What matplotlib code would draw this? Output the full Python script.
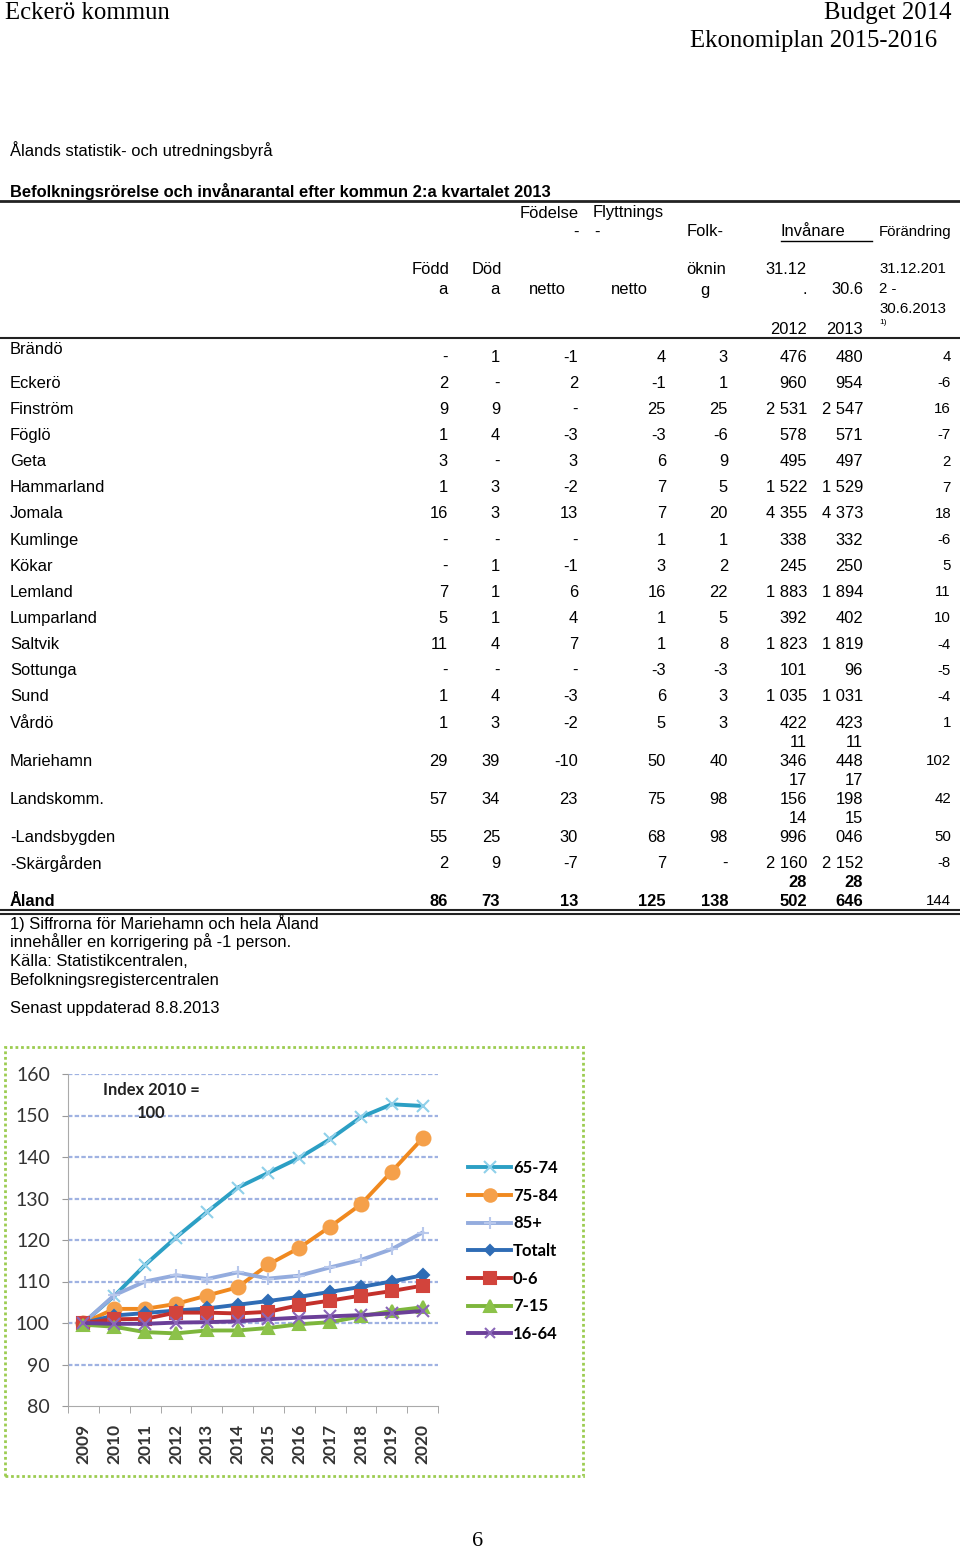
import matplotlib.pyplot as plt
from matplotlib.patches import Rectangle
from matplotlib.lines import Line2D

# --- table data -------------------------------------------------------------
kommuner = ['Brändö', 'Eckerö', 'Finström', 'Föglö', 'Geta', 'Hammarland',
            'Jomala', 'Kumlinge', 'Kökar', 'Lemland', 'Lumparland', 'Saltvik',
            'Sottunga', 'Sund', 'Vårdö', 'Mariehamn', 'Landskomm.',
            '-Landsbygden', '-Skärgården', 'Åland']
fodda = ['-', '2', '9', '1', '3', '1', '16', '-', '-', '7', '5', '11', '-',
         '1', '1', '29', '57', '55', '2', '86']
doda = ['1', '-', '9', '4', '-', '3', '3', '-', '1', '1', '1', '4', '-', '4',
        '3', '39', '34', '25', '9', '73']
fodelsenetto = ['-1', '2', '-', '-3', '3', '-2', '13', '-', '-1', '6', '4',
                '7', '-', '-3', '-2', '-10', '23', '30', '-7', '13']
flyttningsnetto = ['4', '-1', '25', '-3', '6', '7', '7', '1', '3', '16', '1',
                   '1', '-3', '6', '5', '50', '75', '68', '7', '125']
folkokning = ['3', '1', '25', '-6', '9', '5', '20', '1', '2', '22', '5', '8',
              '-3', '3', '3', '40', '98', '98', '-', '138']
invanare_2012 = ['476', '960', '2 531', '578', '495', '1 522', '4 355', '338',
                 '245', '1 883', '392', '1 823', '101', '1 035', '422',
                 '11 346', '17 156', '14 996', '2 160', '28 502']
invanare_2013 = ['480', '954', '2 547', '571', '497', '1 529', '4 373', '332',
                 '250', '1 894', '402', '1 819', '96', '1 031', '423',
                 '11 448', '17 198', '15 046', '2 152', '28 646']
forandring = ['4', '-6', '16', '-7', '2', '7', '18', '-6', '5', '11', '10',
              '-4', '-5', '-4', '1', '102', '42', '50', '-8', '144']

# --- chart data (index 2010 = 100) -----------------------------------------
years = [2009, 2010, 2011, 2012, 2013, 2014, 2015, 2016, 2017, 2018, 2019, 2020]
ald_65_74 = [100, 106.5, 114, 120.6, 126.7, 132.6, 136.2, 139.8, 144.3, 149.6, 152.7, 152.3]
ald_75_84 = [100, 103.4, 103.4, 104.6, 106.6, 108.6, 114.1, 118.1, 123.2, 128.6, 136.5, 144.5]
ald_85 = [100, 106.7, 110, 111.5, 110.6, 112.2, 110.7, 111.4, 113.4, 115.2, 117.8, 121.8]
totalt = [100, 101.8, 102.4, 103, 103.5, 104.4, 105.3, 106.3, 107.5, 108.7, 110, 111.5]
ald_0_6 = [100, 100.9, 101, 102.5, 102.5, 102.3, 102.7, 104.3, 105.4, 106.6, 107.7, 109]
ald_7_15 = [99.6, 99.1, 97.8, 97.5, 98.2, 98.2, 98.8, 99.7, 100.2, 101.6, 102.9, 103.8]
ald_16_64 = [100, 99.8, 99.8, 100.1, 100.2, 100.4, 100.9, 101.3, 101.6, 101.9, 102.3, 102.9]

W, H = 960, 1552
fig = plt.figure(figsize=(W / 100, H / 100), dpi=100)


def fx(x):
    return x / W


def fy(y):
    return 1 - y / H


def txt(x, y, s, ha='left', size=11.9, weight='normal', family=None, va='center'):
    fam = family or ['Liberation Sans', 'DejaVu Sans']
    fig.text(fx(x), fy(y), s, ha=ha, va=va, fontsize=size, weight=weight,
             family=fam, color='black')


serif = ['Liberation Serif', 'DejaVu Serif']
small = 10.8

# page header
txt(5, 13, 'Eckerö kommun', size=17.8, family=serif)
txt(951, 13, 'Budget 2014', ha='right', size=17.8, family=serif)
txt(937, 41, 'Ekonomiplan 2015-2016', ha='right', size=17.8, family=serif)

txt(10, 150, 'Ålands statistik- och utredningsbyrå')
txt(10, 191, 'Befolkningsrörelse och invånarantal efter kommun 2:a kvartalet 2013',
    weight='bold')

# table header
txt(520, 213, 'Födelse')
txt(579, 232, '-', ha='right')
txt(593, 213, 'Flyttnings')
txt(594, 232, '-')
txt(724, 232, 'Folk-', ha='right')
txt(813, 232, 'Invånare', ha='center')
fig.add_artist(Line2D([fx(781), fx(872)], [fy(241), fy(241)], color='black', lw=1))
txt(879, 232, 'Förändring', size=small)
txt(412, 270, 'Född')
txt(448, 290, 'a', ha='right')
txt(472, 270, 'Död')
txt(500, 290, 'a', ha='right')
txt(529, 290, 'netto')
txt(648, 290, 'netto', ha='right')
txt(686, 270, 'öknin')
txt(700, 290, 'g')
txt(807, 270, '31.12', ha='right')
txt(807, 290, '.', ha='right')
txt(807, 330, '2012', ha='right')
txt(863, 290, '30.6', ha='right')
txt(863, 330, '2013', ha='right')
txt(879, 269, '31.12.201', size=small)
txt(879, 289, '2 -', size=small)
txt(879, 309, '30.6.2013', size=small)
txt(879, 323, '1)', size=6)

fig.add_artist(Line2D([0, 1], [fy(201), fy(201)], color='#222222', lw=2))
fig.add_artist(Line2D([0, 1], [fy(338), fy(338)], color='#222222', lw=1.5))

# table body
columns = [(448, fodda), (500, doda), (578, fodelsenetto), (666, flyttningsnetto),
           (728, folkokning), (807, invanare_2012), (863, invanare_2013)]
y = 357
last = len(kommuner) - 1
for i, name in enumerate(kommuner):
    wrapped = len(invanare_2012[i]) > 5 or len(invanare_2013[i]) > 5
    if i > 0:
        y += 38 if wrapped else 26.15
    w = 'bold' if i == last else 'normal'
    txt(10, y - 8 if i == 0 else y, name, weight=w)
    for x, col in columns:
        v = col[i]
        if len(v) > 5:
            top, bottom = v.split(' ')
            txt(x, y - 19, top, ha='right', weight=w)
            txt(x, y, bottom, ha='right', weight=w)
        else:
            txt(x, y, v, ha='right', weight=w)
    txt(951, y, forandring[i], ha='right', size=small)

fig.add_artist(Line2D([0, 1], [fy(910), fy(910)], color='#222222', lw=1.5))
fig.add_artist(Line2D([0, 1], [fy(913.5), fy(913.5)], color='#222222', lw=1.5))

notes = ['1) Siffrorna för Mariehamn och hela Åland',
         'innehåller en korrigering på -1 person.',
         'Källa: Statistikcentralen,',
         'Befolkningsregistercentralen']
for k, line in enumerate(notes):
    txt(10, 923 + 19 * k, line)
txt(10, 1009, 'Senast uppdaterad 8.8.2013')

# --- chart -----------------------------------------------------------------
fig.add_artist(Rectangle((fx(5), fy(1476)), (583 - 5) / W, (1476 - 1047) / H,
                         fill=False, ec='#9ccc50', lw=2, ls=(0, (1, 1))))

ax = fig.add_axes([fx(68), fy(1406), (438 - 68) / W, (1406 - 1074) / H])
series = [
    ('65-74', ald_65_74, '#2c9fc4', 'x', 9, '#8fd0ea'),
    ('75-84', ald_75_84, '#f0891f', 'o', 10, '#f5a04a'),
    ('85+', ald_85, '#94acde', '+', 9, '#b8c8ec'),
    ('Totalt', totalt, '#2f6cb5', 'D', 6, '#2f6cb5'),
    ('0-6', ald_0_6, '#c3302b', 's', 9, '#d2443c'),
    ('7-15', ald_7_15, '#7db63c', '^', 9, '#8cc24a'),
    ('16-64', ald_16_64, '#6b3f98', 'x', 8, '#8a66b8'),
]
for label, vals, c, m, ms, mc in series:
    ax.plot(years, vals, color=c, lw=2.8, marker=m, ms=ms, mfc=mc, mec=mc,
            mew=1.5, label=label, zorder=3)

chart_font = ['Lato', 'DejaVu Sans']
ax.set_xlim(2008.5, 2020.5)
ax.set_ylim(80, 160)
ax.set_yticks(range(80, 161, 10))
ax.set_xticks(years)
ax.set_xticks([yr + 0.5 for yr in years[:-1]] + [2008.5, 2020.5], minor=True)
ax.set_xticklabels([str(yr) for yr in years], rotation=90, family=chart_font,
                   fontsize=12.5, weight='bold', color='#333333')
ax.set_yticklabels([str(v) for v in range(80, 161, 10)], family=chart_font,
                   fontsize=14, color='#333333')
ax.tick_params(axis='x', which='major', length=0, pad=13)
ax.tick_params(axis='x', which='minor', length=5, color='#999999')
ax.tick_params(axis='y', length=4, color='#999999', pad=9)
for v in range(90, 161, 10):
    ax.axhline(v, color='#9fb2e2', lw=1.6, ls=(0, (2, 1)), zorder=1)
for side in ['top', 'right']:
    ax.spines[side].set_visible(False)
for side in ['left', 'bottom']:
    ax.spines[side].set_color('#aaaaaa')
    ax.spines[side].set_linestyle((0, (1, 1)))
ax.patch.set_alpha(0)

ax.text(2009.64, 156.1, 'Index 2010 =', fontsize=11.9, weight='bold',
        family=chart_font, color='#222222', va='center')
ax.text(2011.2, 150.6, '100', fontsize=11.9, weight='bold',
        family=chart_font, color='#222222', va='center', ha='center')

fig.legend(loc='upper left', bbox_to_anchor=(fx(453), fy(1145)), frameon=False,
           prop={'family': chart_font, 'size': 12, 'weight': 'bold'},
           handlelength=2.6, handletextpad=0.1, labelspacing=0.7, markerscale=0.9)

txt(478, 1541, '6', ha='center', size=16, family=serif)

fig.savefig('out.png', dpi=100)
